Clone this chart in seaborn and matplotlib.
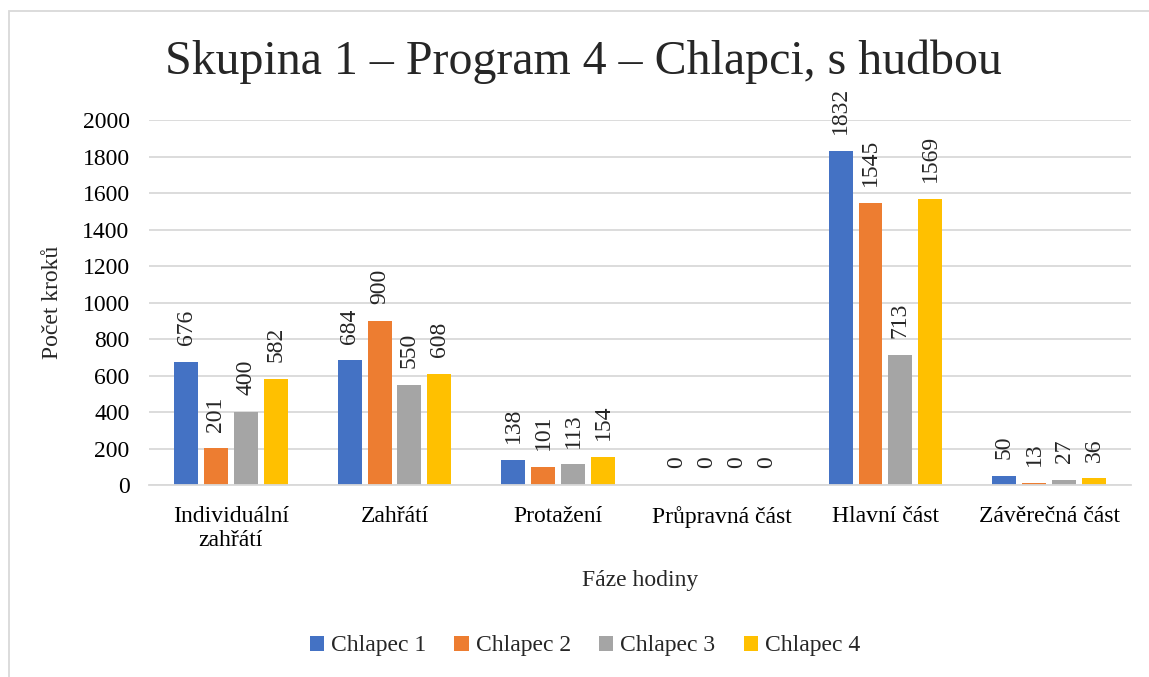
import pandas as pd
import seaborn as sns
import matplotlib.pyplot as plt
from matplotlib.patches import Rectangle

# data
phases = ['Individuální\nzahřátí', 'Zahřátí', 'Protažení', 'Průpravná část', 'Hlavní část', 'Závěrečná část']
boys = ['Chlapec 1', 'Chlapec 2', 'Chlapec 3', 'Chlapec 4']
chlapec1 = [676, 684, 138, 0, 1832, 50]
chlapec2 = [201, 900, 101, 0, 1545, 13]
chlapec3 = [400, 550, 113, 0, 713, 27]
chlapec4 = [582, 608, 154, 0, 1569, 36]
colors = ['#4472C4', '#ED7D31', '#A5A5A5', '#FFC000']

rows = []
for boy, vals in zip(boys, [chlapec1, chlapec2, chlapec3, chlapec4]):
    for ph, v in zip(phases, vals):
        rows.append({'faze': ph, 'chlapec': boy, 'kroky': v})
df = pd.DataFrame(rows)

sns.set_theme(style='white')
plt.rcParams['font.family'] = ['Liberation Serif', 'DejaVu Serif']

fig = plt.figure(figsize=(11.49, 6.77), dpi=100)
ax = fig.add_axes([0.1297, 0.2836, 0.8546, 0.5391])

sns.barplot(data=df, x='faze', y='kroky', hue='chlapec', order=phases, hue_order=boys,
            palette=colors, width=0.73, gap=0.2, saturation=1, linewidth=0, ax=ax, legend=True)

for cont in ax.containers:
    ax.bar_label(cont, rotation=90, padding=12, fontsize=17)

ax.set_ylim(0, 2000)
ax.set_yticks(range(0, 2001, 200))
ax.yaxis.grid(True, color='#D9D9D9', linewidth=1.3)
ax.set_axisbelow(True)
for s in ['top', 'right', 'left']:
    ax.spines[s].set_visible(False)
ax.spines['bottom'].set_color('#D9D9D9')
ax.spines['bottom'].set_linewidth(1.3)
ax.tick_params(axis='both', length=0, labelsize=17, colors='black')
ax.tick_params(axis='x', pad=15)
ax.tick_params(axis='y', pad=14)

ax.set_xlabel('Fáze hodiny', fontsize=17, labelpad=14)
ax.set_ylabel('Počet kroků', fontsize=17, labelpad=14)

fig.text(583 / 1149, 1 - 62 / 677, 'Skupina 1 – Program 4 – Chlapci, s hudbou',
         fontsize=34.5, ha='center', va='center')

ax.legend(loc='center', bbox_to_anchor=(585 / 1149, 1 - 646 / 677), bbox_transform=fig.transFigure,
          ncol=4, frameon=False, fontsize=17, handlelength=0.6, handleheight=0.6,
          handletextpad=0.3, columnspacing=1.2)

# chart frame
fig.patches.append(Rectangle((9 / 1149, -0.1), 1.2, 1 - 11 / 677 + 0.1, transform=fig.transFigure,
                             fill=False, edgecolor='#D9D9D9', linewidth=1.3))

fig.savefig('out.png', dpi=100)
plt.close(fig)
